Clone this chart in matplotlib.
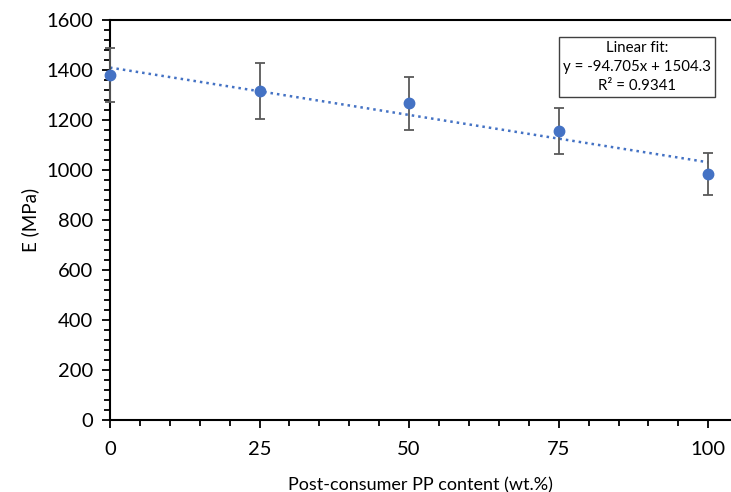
import matplotlib.pyplot as plt
import numpy as np
from matplotlib.ticker import MultipleLocator

# data
content = [0, 25, 50, 75, 100]
modulus = [1380, 1316, 1267, 1156, 984]
modulus_err = [108, 112, 105, 92, 85]

# Excel trendline (x is the point index 1..5)
slope = -94.705
intercept = 1504.3
r2 = 0.9341

plt.rcParams['font.family'] = ['Lato', 'DejaVu Sans']

fig = plt.figure(figsize=(7.31, 4.92), dpi=100)
ax = fig.add_axes([110 / 731, 1 - 420 / 492, 621 / 731, 400 / 492])

x = np.array(content, dtype=float)
fit_y = slope * (x / 25 + 1) + intercept
ax.plot(x, fit_y, linestyle=(0, (1, 1.6)), color='#4472C4', lw=1.8, zorder=2)

ax.errorbar(content, modulus, yerr=modulus_err, fmt='o', color='#4472C4',
            markersize=7.5, ecolor='#595959', elinewidth=1.3, capsize=3.5,
            capthick=1.3, zorder=3, clip_on=False)

ax.set_xlim(0, 103.8)
ax.set_ylim(0, 1600)
ax.set_xticks(content)
ax.xaxis.set_minor_locator(MultipleLocator(5))
ax.yaxis.set_major_locator(MultipleLocator(200))
ax.yaxis.set_minor_locator(MultipleLocator(40))

ax.spines['right'].set_visible(False)
for s in ['left', 'bottom', 'top']:
    ax.spines[s].set_color('black')
    ax.spines[s].set_linewidth(1.5)

ax.tick_params(axis='both', which='major', direction='out', length=6, width=1.3,
               labelsize=14.5, pad=6)
ax.tick_params(axis='both', which='minor', direction='out', length=4, width=1.3)
ax.tick_params(axis='x', which='major', pad=9)

ax.set_xlabel('Post-consumer PP content (wt.%)', fontsize=13, labelpad=14)
ax.set_ylabel('E (MPa)', fontsize=13.5, labelpad=5)

ax.text(0.849, 0.8825, f'Linear fit:\ny = {slope}x + {intercept}\nR² = {r2}',
        transform=ax.transAxes, ha='center', va='center', fontsize=10.8,
        linespacing=1.45,
        bbox=dict(boxstyle='square,pad=0.28', fc='white', ec='#404040', lw=1))

fig.savefig('out.png', dpi=100)
